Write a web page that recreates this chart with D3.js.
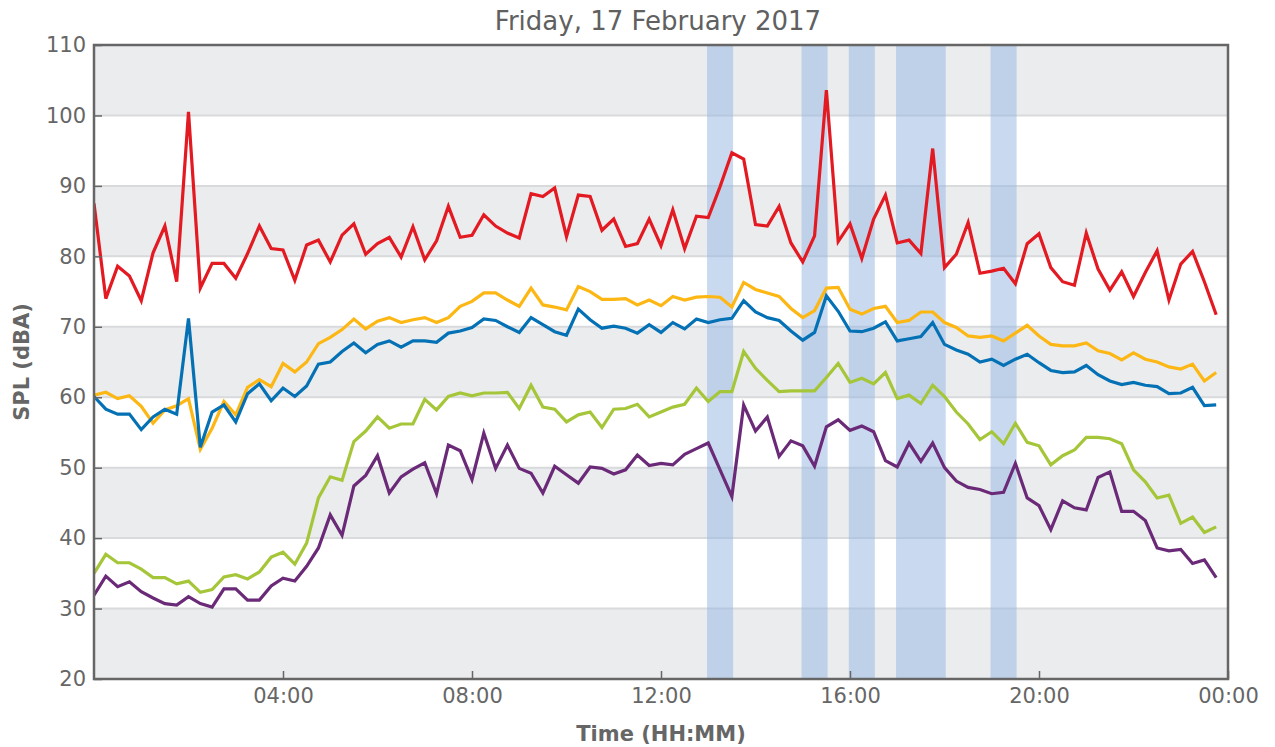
<!DOCTYPE html>
<html>
<head>
<meta charset="utf-8">
<script src="https://cdn.jsdelivr.net/npm/d3@7"></script>
<style>
  html, body { margin: 0; padding: 0; background: #fff; }
  svg text { font-family: "DejaVu Sans", sans-serif; }
</style>
</head>
<body>
<svg id="chart" width="1275" height="747"></svg>
<script>
// ---- data (15-minute samples, 00:00 .. 23:45) ----
const title = "Friday, 17 February 2017";
const yTicks = [20, 30, 40, 50, 60, 70, 80, 90, 100, 110];
const xTickHours = [4, 8, 12, 16, 20, 24];
const xTickLabels = ["04:00", "08:00", "12:00", "16:00", "20:00", "00:00"];
// highlighted periods, [startHour, endHour]
const bands = [[13, 13.5], [15, 15.5], [16, 16.5], [17, 18], [19, 19.5]];

const redSeries = [87.5,74.0,78.6,77.2,73.7,80.5,84.3,76.4,100.5,75.5,79.0,79.0,76.9,80.4,84.3,81.1,
  80.9,76.6,81.6,82.3,79.2,83.0,84.6,80.3,81.8,82.7,79.9,84.2,79.5,82.2,87.1,82.7,
  83.0,85.9,84.3,83.3,82.6,88.9,88.5,89.7,82.8,88.7,88.5,83.7,85.3,81.4,81.8,85.3,
  81.5,86.6,81.1,85.7,85.5,89.9,94.7,93.8,84.5,84.3,87.1,81.9,79.2,82.9,103.6,82.1,
  84.6,79.7,85.3,88.7,81.9,82.3,80.4,95.3,78.4,80.3,84.8,77.6,77.9,78.3,76.1,81.8,
  83.2,78.4,76.4,75.9,83.3,78.2,75.2,77.8,74.3,77.7,80.8,73.8,78.9,80.7,76.4,71.7];
const yellowSeries = [60.3,60.7,59.8,60.2,58.7,56.3,58.2,58.8,59.8,52.6,55.6,59.4,57.5,61.4,62.5,61.5,
  64.8,63.6,65.0,67.6,68.5,69.6,71.1,69.7,70.8,71.3,70.6,71.0,71.3,70.6,71.3,72.9,
  73.6,74.8,74.8,73.8,72.9,75.5,73.1,72.8,72.4,75.7,75.0,73.9,73.9,74.0,73.1,73.8,
  73.0,74.3,73.8,74.2,74.3,74.2,72.8,76.3,75.3,74.8,74.3,72.6,71.3,72.3,75.5,75.6,
  72.5,71.8,72.6,72.9,70.6,70.9,72.1,72.1,70.6,69.9,68.7,68.5,68.7,68.0,69.1,70.2,
  68.7,67.5,67.3,67.3,67.7,66.6,66.2,65.3,66.3,65.4,65.0,64.3,64.0,64.7,62.3,63.5];
const blueSeries = [60.1,58.3,57.6,57.6,55.4,57.2,58.3,57.6,71.2,52.9,57.9,58.9,56.5,60.5,61.9,59.5,
  61.3,60.1,61.6,64.7,65.0,66.5,67.7,66.3,67.5,68.0,67.1,68.0,68.0,67.8,69.1,69.4,
  69.9,71.1,70.9,70.0,69.2,71.3,70.3,69.3,68.8,72.5,71.0,69.8,70.1,69.8,69.1,70.3,
  69.2,70.6,69.7,71.1,70.6,71.0,71.2,73.7,72.1,71.3,70.9,69.4,68.1,69.2,74.4,72.2,
  69.4,69.3,69.8,70.7,68.0,68.3,68.6,70.6,67.5,66.7,66.1,65.0,65.4,64.5,65.4,66.1,
  64.9,63.8,63.5,63.6,64.5,63.2,62.3,61.8,62.1,61.7,61.5,60.5,60.6,61.4,58.8,58.9];
const greenSeries = [35.0,37.7,36.5,36.5,35.6,34.4,34.4,33.5,33.9,32.3,32.7,34.5,34.8,34.2,35.2,37.3,
  38.0,36.3,39.3,45.7,48.7,48.2,53.7,55.2,57.2,55.6,56.2,56.2,59.7,58.2,60.1,60.6,
  60.2,60.6,60.6,60.7,58.4,61.7,58.6,58.3,56.5,57.5,57.9,55.7,58.3,58.4,59.0,57.2,
  57.9,58.6,59.0,61.3,59.4,60.8,60.8,66.5,64.1,62.4,60.8,60.9,60.9,60.9,62.8,64.8,
  62.1,62.7,61.9,63.5,59.8,60.3,59.1,61.7,60.1,57.9,56.2,54.0,55.1,53.4,56.3,53.6,
  53.1,50.4,51.7,52.5,54.3,54.3,54.1,53.4,49.7,48.0,45.7,46.1,42.1,43.0,40.8,41.6];
const purpleSeries = [31.9,34.6,33.1,33.8,32.4,31.5,30.7,30.5,31.7,30.7,30.2,32.8,32.8,31.2,31.2,33.2,
  34.3,33.9,36.0,38.6,43.3,40.4,47.4,48.9,51.7,46.4,48.7,49.8,50.7,46.3,53.2,52.4,
  48.3,54.9,49.9,53.2,49.9,49.2,46.4,50.2,49.0,47.8,50.1,49.9,49.1,49.7,51.8,50.3,
  50.6,50.4,51.9,52.7,53.5,49.7,45.9,58.9,55.2,57.2,51.6,53.8,53.1,50.2,55.8,56.8,
  55.3,55.9,55.1,51.0,50.1,53.5,50.9,53.5,50.0,48.1,47.2,46.9,46.3,46.5,50.6,45.7,
  44.6,41.2,45.3,44.3,44.0,48.6,49.4,43.8,43.8,42.5,38.6,38.2,38.4,36.4,36.9,34.4];

const seriesList = [
  { values: redSeries,    color: "#e31a22" },
  { values: yellowSeries, color: "#fdb714" },
  { values: blueSeries,   color: "#0571b5" },
  { values: greenSeries,  color: "#a6c63a" },
  { values: purpleSeries, color: "#6b2a78" }
];

// ---- layout ----
const svg = d3.select("#chart");
const m = { left: 94, right: 1228, top: 45, bottom: 679 };

const x = d3.scaleLinear().domain([0, 24]).range([m.left, m.right]);
const y = d3.scaleLinear().domain([20, 110]).range([m.bottom, m.top]);

// alternating background stripes
const stripes = d3.range(20, 110, 10);
svg.append("g").selectAll("rect").data(stripes).join("rect")
  .attr("x", m.left).attr("width", m.right - m.left)
  .attr("y", d => y(d + 10)).attr("height", d => y(d) - y(d + 10))
  .attr("fill", d => (Math.round((d - 20) / 10) % 2 === 0) ? "#ebecee" : "#ffffff");

// grid lines
svg.append("g").selectAll("line").data(yTicks.slice(1, -1)).join("line")
  .attr("x1", m.left).attr("x2", m.right)
  .attr("y1", d => y(d)).attr("y2", d => y(d))
  .attr("stroke", "#d9dadc").attr("stroke-width", 2);

// highlighted bands
svg.append("g").selectAll("rect").data(bands).join("rect")
  .attr("x", d => x(d[0]) - 1.2).attr("width", d => x(d[1]) - x(d[0]) + 2.4)
  .attr("y", m.top).attr("height", m.bottom - m.top)
  .attr("fill", "rgb(147,181,225)").attr("fill-opacity", 0.5);

// lines
const line = d3.line().x((d, i) => x(i * 0.25)).y(d => y(d));
svg.append("clipPath").attr("id", "clip").append("rect")
  .attr("x", m.left).attr("y", m.top).attr("width", m.right - m.left).attr("height", m.bottom - m.top);
svg.append("g").attr("clip-path", "url(#clip)").selectAll("path").data(seriesList).join("path")
  .attr("d", d => line(d.values))
  .attr("fill", "none").attr("stroke", d => d.color)
  .attr("stroke-width", 3.2).attr("stroke-linejoin", "miter").attr("stroke-miterlimit", 4);

// axes
const axisColor = "#666666";
const yAxis = d3.axisLeft(y).tickValues(yTicks).tickSizeInner(-8).tickSizeOuter(0).tickPadding(8);
const yg = svg.append("g").attr("transform", `translate(${m.left},0)`).call(yAxis);
yg.select(".domain").remove();
yg.selectAll(".tick line").attr("stroke", axisColor).attr("stroke-width", 1.5);
yg.selectAll(".tick text").attr("fill", "#666").attr("font-size", 21)
  .attr("font-family", "DejaVu Sans, sans-serif");

const xAxis = d3.axisBottom(x).tickValues(xTickHours)
  .tickFormat((d, i) => xTickLabels[i]).tickSizeInner(-8).tickSizeOuter(0).tickPadding(9);
const xg = svg.append("g").attr("transform", `translate(0,${m.bottom})`).call(xAxis);
xg.select(".domain").remove();
xg.selectAll(".tick line").attr("stroke", axisColor).attr("stroke-width", 1.5);
xg.selectAll(".tick text").attr("fill", "#666").attr("font-size", 21)
  .attr("font-family", "DejaVu Sans, sans-serif");

// frame
svg.append("rect").attr("x", m.left).attr("y", m.top)
  .attr("width", m.right - m.left).attr("height", m.bottom - m.top)
  .attr("fill", "none").attr("stroke", axisColor).attr("stroke-width", 2.5);

// title & labels
svg.append("text").attr("x", (m.left + m.right) / 2 - 3).attr("y", 30)
  .attr("text-anchor", "middle").attr("font-size", 26).attr("fill", "#606060")
  .text(title);
svg.append("text").attr("x", (m.left + m.right) / 2).attr("y", 741)
  .attr("text-anchor", "middle").attr("font-size", 21).attr("font-weight", "bold").attr("fill", "#666")
  .text("Time (HH:MM)");
svg.append("text").attr("transform", `translate(29,${(m.top + m.bottom) / 2}) rotate(-90)`)
  .attr("text-anchor", "middle").attr("font-size", 21).attr("font-weight", "bold").attr("fill", "#666")
  .text("SPL (dBA)");
</script>
</body>
</html>
